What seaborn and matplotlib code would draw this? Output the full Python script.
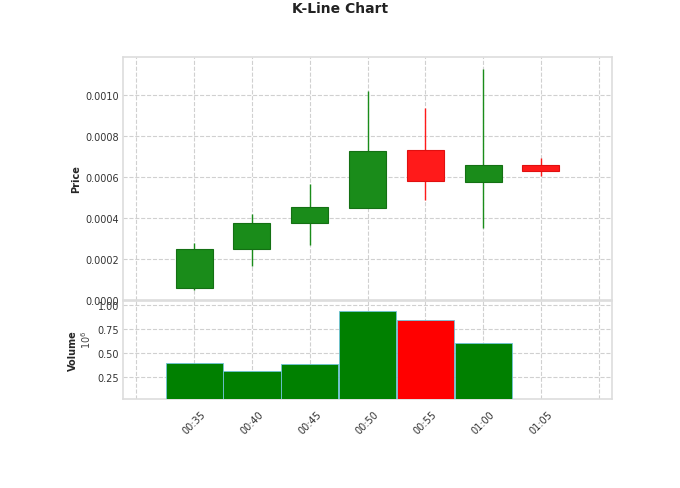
import numpy as np
import matplotlib
matplotlib.use("Agg")
import matplotlib.pyplot as plt
import seaborn as sns

# 5분봉 데이터
times = ['00:35', '00:40', '00:45', '00:50', '00:55', '01:00', '01:05']
opens = [0.000058, 0.000248, 0.000374, 0.000447, 0.000728, 0.000573, 0.000655]
closes = [0.000248, 0.000374, 0.000451, 0.000725, 0.000578, 0.000655, 0.000626]
highs = [0.000277, 0.000417, 0.000563, 0.001020, 0.000937, 0.001126, 0.000689]
lows = [0.000049, 0.000165, 0.000267, 0.000447, 0.000485, 0.000350, 0.000602]
volumes = [0.40, 0.31, 0.39, 0.94, 0.84, 0.60, 0.0]  # x 10^6

sns.set_style("whitegrid", {"grid.linestyle": "--", "grid.color": "#d0d0d0",
                            "axes.edgecolor": "#dddddd"})

fig = plt.figure(figsize=(6.8, 4.89), dpi=100)
ax1 = fig.add_axes([0.181, 0.385, 0.719, 0.497])
ax2 = fig.add_axes([0.181, 0.182, 0.719, 0.200], sharex=ax1)

x = np.arange(len(times))
up = [c >= o for o, c in zip(opens, closes)]
body_col = ['#1a8c1a' if u else '#ff1a1a' for u in up]
edge_col = ['#147014' if u else '#e01010' for u in up]

# 캔들
ax1.vlines(x, lows, highs, colors=body_col, linewidth=1, zorder=2)
ax1.bar(x, np.abs(np.array(closes) - np.array(opens)), bottom=np.minimum(opens, closes),
        width=0.64, color=body_col, edgecolor=edge_col, linewidth=0.8, zorder=3)
ax1.set_ylim(0, 0.001185)
ax1.set_yticks([0, 0.0002, 0.0004, 0.0006, 0.0008, 0.0010])
ax1.set_yticklabels(['0.0000', '0.0002', '0.0004', '0.0006', '0.0008', '0.0010'])
ax1.set_ylabel('Price', fontsize=7, fontweight='bold')
ax1.yaxis.set_label_coords(-0.086, 0.5)
ax1.tick_params(labelbottom=False)

# 거래량
vol_col = ['#008000' if u else '#ff0000' for u in up]
ax2.bar(x, volumes, width=0.99, color=vol_col, edgecolor='#6fc3d8', linewidth=0.6, zorder=3)
ax2.set_ylim(0.02, 1.04)
ax2.set_yticks([0.25, 0.5, 0.75, 1.0])
ax2.set_yticklabels(['0.25', '0.50', '0.75', '1.00'])
ax2.set_ylabel('Volume', fontsize=7, fontweight='bold')
ax2.yaxis.set_label_coords(-0.093, 0.5)
ax2.text(-0.076, 0.62, '$10^6$', transform=ax2.transAxes, rotation=90,
         fontsize=7, color='#444444', ha='center', va='center')

ticks = np.arange(-1, len(times) + 1)
ax2.set_xticks(ticks)
ax2.set_xticklabels([''] + times + [''], rotation=45, fontsize=7)
ax2.set_xlim(-1.23, 7.23)

for ax in (ax1, ax2):
    ax.tick_params(axis='y', labelsize=7, colors='#333333', length=0, pad=3)
    ax.tick_params(axis='x', colors='#333333')
    for s in ax.spines.values():
        s.set_linewidth(1.2)
    ax.grid(True, linestyle='--', color='#d0d0d0', linewidth=0.8)
    ax.set_axisbelow(True)

fig.suptitle('K-Line Chart', fontsize=10, fontweight='bold', y=0.995, color='#222222')
plt.savefig('out.png', dpi=100)
plt.close()
